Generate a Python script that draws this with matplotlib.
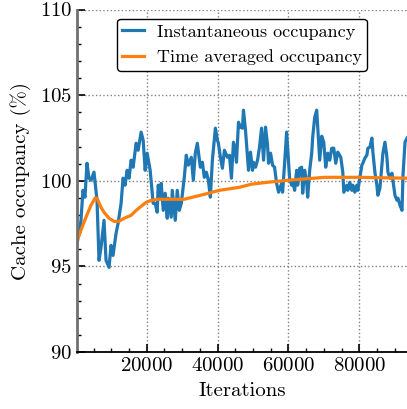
import matplotlib
matplotlib.use("Agg")
import matplotlib.pyplot as plt
from matplotlib.ticker import MultipleLocator

plt.rcParams["font.family"] = ["cmr10", "DejaVu Serif"]
plt.rcParams["mathtext.fontset"] = "cm"
plt.rcParams["axes.formatter.use_mathtext"] = True

# instantaneous occupancy
iters_inst = [
    300, 850, 1420, 1980, 2550, 3120, 3680, 4250, 5100, 5950,
    6520, 7080, 7930, 8500, 9350, 9920, 10480, 11330, 11900, 12750,
    13310, 13880, 14450, 15010, 15580, 16150, 17000, 17560, 18410, 18980,
    19550, 20110, 20960, 21810, 22380, 22950, 23230, 23800, 24080, 24650,
    25210, 25780, 26060, 26910, 27200, 28050, 28610, 29180, 29750, 30600,
    31160, 31730, 32580, 33150, 33710, 34280, 35130, 35700, 36260, 36830,
    37400, 37960, 38530, 39380, 39950, 40230, 40800, 41360, 41930, 42780,
    43350, 43910, 44480, 45040, 45330, 45900, 46460, 47030, 47310, 47880,
    48440, 48730, 49290, 49860, 50140, 50710, 51280, 51840, 52410, 52980,
    53540, 54110, 54390, 54960, 55530, 56090, 56660, 57230, 58080, 58360,
    58930, 59490, 59780, 60340, 60910, 61190, 61760, 62330, 62610, 63180,
    63740, 64030, 64590, 65160, 65440, 66010, 66580, 66860, 67430, 67990,
    68280, 68840, 69410, 69980, 70540, 71110, 71670, 72240, 72810, 73370,
    73940, 74790, 75360, 75640, 76490, 76770, 77340, 77910, 78190, 78760,
    79320, 79610, 80170, 80740, 81020, 81590, 82160, 82440, 83010, 83570,
    83860, 84420, 84990, 85270, 85840, 86410, 86690, 87260, 87820, 88110,
    88670, 89240, 89520, 90090, 90660, 90940, 91510, 92080, 92360, 92930,
    93490,
]
occ_inst = [
    96.70, 96.81, 97.69, 99.44, 99.04, 101.02, 100.15, 100.03, 100.50, 98.86,
    95.35, 96.11, 97.69, 95.35, 94.94, 96.23, 95.64, 96.93, 97.51, 98.68,
    100.15, 99.74, 100.61, 100.15, 101.20, 100.79, 102.19, 101.78, 102.84, 102.37,
    100.61, 101.61, 100.61, 98.68, 98.68, 98.16, 99.74, 99.04, 99.85, 98.27,
    99.27, 97.81, 98.98, 97.87, 99.44, 97.69, 99.44, 98.27, 98.68, 100.20,
    101.49, 100.91, 101.37, 100.03, 101.61, 102.19, 100.79, 101.08, 100.20, 100.50,
    100.03, 99.04, 101.20, 103.07, 102.37, 102.19, 101.37, 100.73, 101.78, 101.37,
    101.49, 100.15, 102.25, 101.78, 101.08, 103.42, 103.13, 103.07, 104.12, 102.95,
    101.37, 100.61, 101.67, 100.61, 101.08, 100.79, 101.20, 101.96, 103.07, 101.20,
    103.13, 102.08, 101.02, 101.61, 100.91, 100.79, 99.85, 99.33, 99.85, 99.33,
    101.02, 102.84, 101.90, 100.15, 99.74, 100.03, 99.44, 100.61, 99.74, 100.73,
    100.79, 99.27, 100.61, 99.91, 99.04, 100.61, 101.61, 102.54, 103.71, 104.12,
    103.13, 101.20, 102.60, 102.25, 100.79, 101.61, 101.20, 101.90, 101.90, 101.02,
    101.67, 101.37, 100.50, 99.33, 99.74, 99.44, 99.91, 99.44, 99.74, 99.33,
    99.74, 99.44, 100.15, 100.91, 101.02, 101.32, 101.49, 101.90, 101.96, 102.49,
    101.67, 100.50, 99.74, 99.15, 99.56, 100.91, 101.61, 102.25, 101.37, 100.50,
    100.15, 100.44, 100.03, 99.15, 98.86, 98.98, 98.57, 98.27, 100.32, 102.25,
    102.49,
]

# time averaged occupancy
iters_avg = [
    300, 850, 2830, 4250, 5380, 5950, 7080, 7930, 9350, 10770,
    12180, 13600, 15580, 17000, 18410, 19830, 21250, 23510, 26350, 30600,
    36260, 40510, 46180, 49580, 54110, 60060, 70260, 80170, 93490,
]
occ_avg = [
    96.35, 96.81, 97.87, 98.57, 98.98, 98.98, 98.45, 98.16, 97.81, 97.63,
    97.63, 97.81, 97.98, 98.27, 98.51, 98.74, 98.86, 98.92, 98.92, 98.92,
    99.21, 99.44, 99.62, 99.80, 99.91, 100.03, 100.20, 100.20, 100.15,
]

W, H = 407, 409
fig = plt.figure(figsize=(W / 100, H / 100), dpi=100)
ax = fig.add_axes([77 / W, (H - 352) / H, (W - 77) / W, (352 - 9.5) / H])

ax.plot(iters_inst, occ_inst, color="tab:blue", lw=2.3, label="Instantaneous occupancy")
ax.plot(iters_avg, occ_avg, color="tab:orange", lw=2.3, label="Time averaged occupancy")

ax.set_xlim(300, 93490)
ax.set_ylim(90, 110)
ax.xaxis.set_major_locator(MultipleLocator(20000))
ax.xaxis.set_minor_locator(MultipleLocator(5000))
ax.yaxis.set_major_locator(MultipleLocator(5))
ax.yaxis.set_minor_locator(MultipleLocator(1))
ax.tick_params(which="both", direction="in", labelsize=15, color="black")
ax.tick_params(which="major", length=6, width=1.2)
ax.tick_params(which="minor", length=3, width=1.0)
for s in ["top", "right"]:
    ax.spines[s].set_visible(False)
ax.spines["left"].set_linewidth(2.0)
ax.spines["left"].set_color("#707070")
ax.spines["bottom"].set_linewidth(1.3)
ax.spines["bottom"].set_color("black")

ax.grid(True, which="major", ls=":", color="gray", lw=1.0)
ax.set_xlabel("Iterations", fontsize=15, labelpad=5)
ax.set_ylabel("Cache occupancy (%)", fontsize=15, labelpad=6)

leg = ax.legend(loc="upper center", fontsize=13, framealpha=1, edgecolor="black",
                borderpad=0.3, handlelength=1.2, handletextpad=0.7, labelspacing=0.55)
leg.get_frame().set_linewidth(1.0)

fig.savefig("out.png", dpi=100)
